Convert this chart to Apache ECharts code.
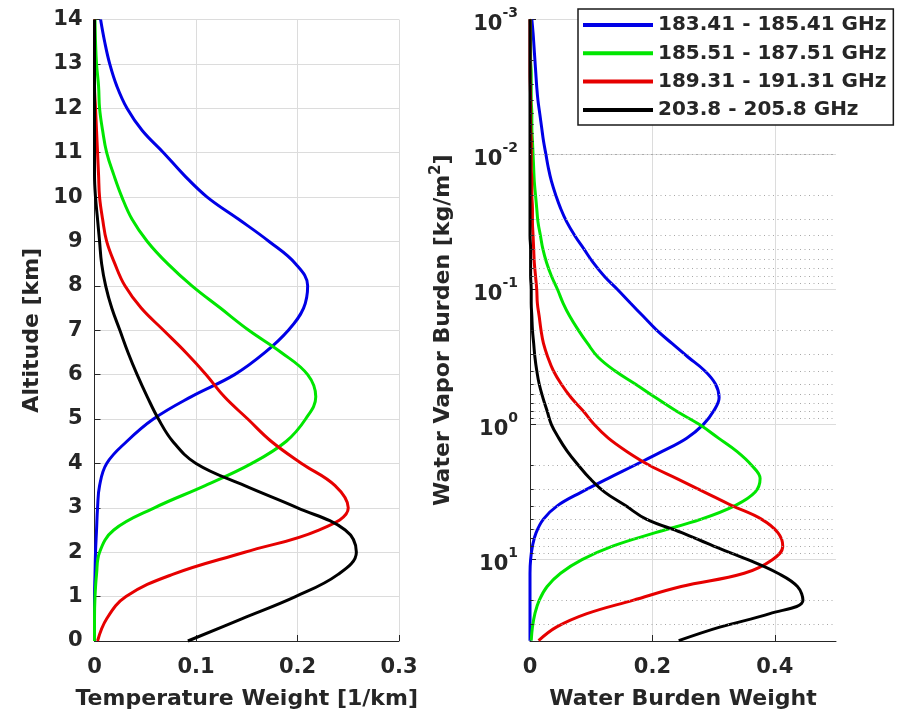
<!DOCTYPE html>
<html>
<head>
<meta charset="utf-8">
<title>Weighting functions</title>
<script src="https://cdn.jsdelivr.net/npm/echarts@6/dist/echarts.min.js"></script>
<style>
  html, body { margin: 0; padding: 0; background: #ffffff; }
  #chart { width: 899px; height: 717px; }
</style>
</head>
<body>
<div id="chart"></div>
<script>
// Channel labels (legend order)
const channels = ['183.41 - 185.41 GHz', '185.51 - 187.51 GHz', '189.31 - 191.31 GHz', '203.8 - 205.8 GHz'];

// Left panel: temperature weighting functions vs altitude [km]
const altitudeKm = [0, 0.5, 1, 1.5, 2, 2.5, 3, 3.5, 4, 4.5, 5, 5.5, 6, 6.5, 7, 7.5, 8, 8.5, 9, 9.5, 10, 10.5, 11, 11.5, 12, 12.5, 13, 13.5, 14];
const tempBlue  = [0, 0, 0, 0.0005, 0.001, 0.002, 0.003, 0.005, 0.012, 0.032, 0.058, 0.095, 0.138, 0.168, 0.191, 0.206, 0.210, 0.198, 0.172, 0.142, 0.111, 0.088, 0.068, 0.047, 0.032, 0.022, 0.015, 0.010, 0.006];
const tempGreen = [0, 0, 0.0005, 0.002, 0.005, 0.019, 0.059, 0.109, 0.155, 0.189, 0.208, 0.218, 0.210, 0.184, 0.152, 0.124, 0.096, 0.072, 0.052, 0.037, 0.027, 0.019, 0.012, 0.008, 0.005, 0.004, 0.002, 0.001, 0.0005];
const tempRed   = [0.003, 0.012, 0.031, 0.077, 0.148, 0.221, 0.250, 0.237, 0.204, 0.174, 0.151, 0.128, 0.110, 0.090, 0.068, 0.046, 0.030, 0.020, 0.012, 0.008, 0.005, 0.004, 0.003, 0.002, 0.001, 0, 0, 0, 0];
const tempBlack = [0.092, 0.145, 0.198, 0.240, 0.258, 0.247, 0.200, 0.148, 0.100, 0.077, 0.063, 0.052, 0.042, 0.033, 0.025, 0.017, 0.011, 0.007, 0.005, 0.003, 0.001, 0, 0, 0, 0, 0, 0, 0, 0];

// Right panel: water burden weighting functions vs water vapor burden [kg/m^2]
const burdenKgM2 = [0.001, 0.00126, 0.00158, 0.002, 0.00251, 0.00316, 0.00398, 0.00501, 0.00631, 0.00794,
                    0.01, 0.0126, 0.0158, 0.02, 0.0251, 0.0316, 0.0398, 0.0501, 0.0631, 0.0794,
                    0.1, 0.126, 0.158, 0.2, 0.251, 0.316, 0.398, 0.501, 0.631, 0.794,
                    1, 1.26, 1.58, 2, 2.51, 3.16, 3.98, 5.01, 6.31, 7.94,
                    10, 12.6, 15.8, 20, 25.1, 31.6, 39.8];
const wbBlue  = [0.003, 0.005, 0.0065, 0.008, 0.0095, 0.011, 0.013, 0.016, 0.019, 0.022,
                 0.026, 0.030, 0.035, 0.042, 0.050, 0.060, 0.073, 0.088, 0.103, 0.121,
                 0.143, 0.164, 0.185, 0.207, 0.232, 0.258, 0.285, 0.303, 0.309, 0.300,
                 0.283, 0.256, 0.216, 0.171, 0.127, 0.084, 0.045, 0.022, 0.010, 0.004,
                 0.001, 0, 0, 0, 0, 0, 0];
const wbGreen = [0.0005, 0.001, 0.001, 0.001, 0.002, 0.002, 0.002, 0.003, 0.003, 0.004,
                 0.005, 0.006, 0.007, 0.009, 0.011, 0.013, 0.017, 0.021, 0.027, 0.035,
                 0.045, 0.054, 0.065, 0.079, 0.094, 0.111, 0.138, 0.172, 0.205, 0.239,
                 0.277, 0.308, 0.338, 0.362, 0.376, 0.368, 0.335, 0.280, 0.205, 0.135,
                 0.085, 0.050, 0.028, 0.015, 0.008, 0.004, 0.002];
const wbRed   = [0, 0, 0, 0, 0, 0.0005, 0.001, 0.001, 0.001, 0.002,
                 0.002, 0.002, 0.003, 0.003, 0.004, 0.004, 0.005, 0.006, 0.007, 0.009,
                 0.011, 0.012, 0.015, 0.018, 0.022, 0.029, 0.038, 0.051, 0.067, 0.087,
                 0.105, 0.128, 0.158, 0.195, 0.240, 0.285, 0.330, 0.378, 0.405, 0.413,
                 0.396, 0.350, 0.247, 0.168, 0.093, 0.043, 0.014];
const wbBlack = [0, 0, 0, 0, 0, 0, 0, 0, 0, 0,
                 0, 0, 0, 0, 0, 0, 0, 0.001, 0.001, 0.001,
                 0.002, 0.002, 0.003, 0.004, 0.006, 0.008, 0.011, 0.015, 0.021, 0.028,
                 0.035, 0.047, 0.061, 0.079, 0.098, 0.122, 0.156, 0.190, 0.248, 0.300,
                 0.356, 0.405, 0.437, 0.446, 0.392, 0.310, 0.243];

// Tick values
const tempTicks = [0, 0.1, 0.2, 0.3];
const burdenDecades = [-3, -2, -1, 0, 1];

const lineColors = ['#0000e6', '#00e600', '#e60000', '#000000'];
const FONT = 'DejaVu Sans';
const TEXT = '#262626';

function pairs(xs, ys) { return xs.map((x, i) => [x, ys[i]]); }

// Minor positions on the log axis (2..9 times each decade)
const minorBurden = [];
burdenDecades.forEach(d => {
  for (let m = 2; m <= 9; m++) {
    const v = +(m * Math.pow(10, d)).toPrecision(3);
    if (v < 40) minorBurden.push(v);
  }
});

const labelBase = { fontFamily: FONT, fontWeight: 'bold', color: TEXT };

const axisCommon = {
  axisLine: { lineStyle: { color: TEXT, width: 1 } },
  axisTick: { inside: true, length: 6, lineStyle: { color: TEXT, width: 1 } },
  splitLine: { show: true, lineStyle: { color: '#dcdcdc', width: 1 } },
  nameTextStyle: Object.assign({ fontSize: 22 }, labelBase)
};

function logLabel(v) {
  const e = Math.round(Math.log10(v));
  if (Math.abs(v / Math.pow(10, e) - 1) > 1e-6) return '';
  if (burdenDecades.indexOf(e) < 0) return '';
  return '{b|10}{s|' + e + '}';
}

const chart = echarts.init(document.getElementById('chart'), null, { renderer: 'canvas' });

const lineCommon = {
  type: 'line', showSymbol: false, symbol: 'none',
  smooth: 0.4, clip: false, z: 3
};

const series = [];
[tempBlue, tempGreen, tempRed, tempBlack].forEach((vals, i) => {
  series.push(Object.assign({}, lineCommon, {
    name: channels[i], xAxisIndex: 0, yAxisIndex: 0,
    data: pairs(vals, altitudeKm),
    lineStyle: { color: lineColors[i], width: 3 }, itemStyle: { color: lineColors[i] }
  }));
});

// Minor dotted grid lines for the log axis
series.push({
  type: 'line', xAxisIndex: 1, yAxisIndex: 1, data: [], silent: true, z: 1,
  markLine: {
    silent: true, symbol: ['none', 'none'], animation: false,
    label: { show: false },
    lineStyle: { color: '#a8a8a8', width: 1, type: [1, 3.5] },
    emphasis: { disabled: true },
    data: minorBurden.map(v => ({ yAxis: v }))
  }
});

// Minor tick marks on the log axis
series.push({
  type: 'line', xAxisIndex: 1, yAxisIndex: 1, data: [], silent: true, z: 2,
  markLine: {
    silent: true, symbol: ['none', 'none'], animation: false,
    label: { show: false },
    lineStyle: { color: TEXT, width: 1, type: 'solid' },
    emphasis: { disabled: true },
    data: minorBurden.map(v => [{ coord: [0, v] }, { coord: [0.006, v] }])
  }
});

[wbBlue, wbGreen, wbRed, wbBlack].forEach((vals, i) => {
  series.push(Object.assign({}, lineCommon, {
    name: channels[i], xAxisIndex: 1, yAxisIndex: 1,
    data: pairs(vals, burdenKgM2),
    lineStyle: { color: lineColors[i], width: 3 }, itemStyle: { color: lineColors[i] }
  }));
});

chart.setOption({
  animation: false,
  backgroundColor: '#ffffff',
  grid: [
    { left: 94.5, top: 19.5, width: 304.5, height: 621.5, containLabel: false },
    { left: 530, top: 19.3, width: 306, height: 621.7, containLabel: false }
  ],
  legend: {
    data: channels, orient: 'vertical', left: 578, top: 9,
    icon: 'rect', itemWidth: 70, itemHeight: 4, itemGap: 8.3,
    selectedMode: false,
    backgroundColor: '#ffffff', borderColor: '#1a1a1a', borderWidth: 1.5,
    padding: [6, 7, 5, 5],
    textStyle: Object.assign({ fontSize: 20, lineHeight: 20 }, labelBase),
    z: 10
  },
  xAxis: [
    Object.assign({}, axisCommon, {
      type: 'value', gridIndex: 0, min: tempTicks[0], max: tempTicks[tempTicks.length - 1], interval: 0.1,
      name: 'Temperature Weight [1/km]', nameLocation: 'middle', nameGap: 47,
      axisLabel: Object.assign({ fontSize: 21, margin: 16, formatter: v => String(+v.toFixed(2)) }, labelBase)
    }),
    Object.assign({}, axisCommon, {
      type: 'value', gridIndex: 1, min: 0, max: 0.5, interval: 0.2,
      name: 'Water Burden Weight', nameLocation: 'middle', nameGap: 47,
      splitLine: { show: true, showMaxLine: false, lineStyle: { color: '#dcdcdc', width: 1 } },
      axisLabel: Object.assign({ fontSize: 21, margin: 16, showMaxLabel: false,
        formatter: v => (Math.abs(v - 0.5) < 1e-9 ? '' : String(+v.toFixed(2))) }, labelBase)
    })
  ],
  yAxis: [
    Object.assign({}, axisCommon, {
      type: 'value', gridIndex: 0, min: 0, max: 14, interval: 1,
      name: 'Altitude [km]', nameLocation: 'middle', nameGap: 51,
      axisLabel: Object.assign({ fontSize: 21, margin: 12 }, labelBase)
    }),
    Object.assign({}, axisCommon, {
      type: 'log', logBase: 10, gridIndex: 1, min: 0.001, max: 40, inverse: true,
      name: 'Water Vapor Burden [kg/m{s|2}]', nameLocation: 'middle', nameGap: 72,
      nameTextStyle: Object.assign({ fontSize: 22 }, labelBase, {
        rich: { s: Object.assign({ fontSize: 15, padding: [0, 0, 14, 0] }, labelBase) }
      }),
      splitLine: { show: true, showMaxLine: false, lineStyle: { color: '#dcdcdc', width: 1 } },
      axisLabel: {
        margin: 12, formatter: logLabel,
        rich: {
          b: Object.assign({ fontSize: 21, padding: [10, 0, 0, 0] }, labelBase),
          s: Object.assign({ fontSize: 14, padding: [0, 0, 12, 0] }, labelBase)
        }
      }
    })
  ],
  series: series
});
</script>
</body>
</html>
